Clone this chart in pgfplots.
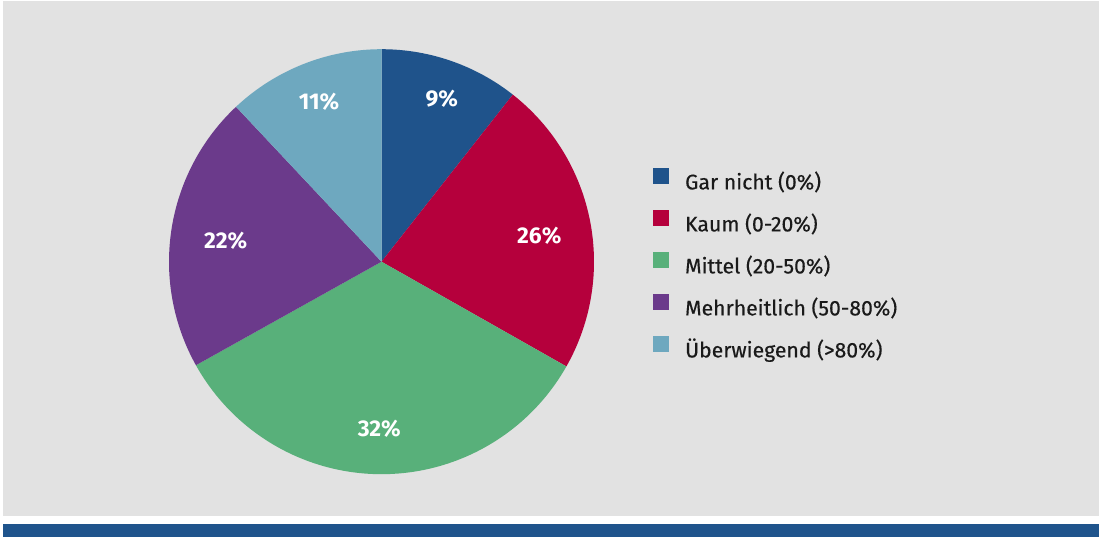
\documentclass[border=0pt]{standalone}
\usepackage{pgfplots}
\pgfplotsset{compat=1.18}
\usepackage{pgfplotstable}
\usepackage{fontspec}
\setmainfont{Fira Sans}
\newfontfamily\legfont[FakeBold=0.4]{Fira Sans}
\definecolor{bggray}{HTML}{E2E2E2}
\definecolor{barblue}{HTML}{1F548C}
\definecolor{c0}{HTML}{1F538B}
\definecolor{c1}{HTML}{B5003C}
\definecolor{c2}{HTML}{58B07A}
\definecolor{c3}{HTML}{6B3A8B}
\definecolor{c4}{HTML}{6EA8BF}
\definecolor{txt}{HTML}{1A1A1A}

% share of the circle as drawn, printed label, label position
\pgfplotstableread{
share pct lx ly
10.6 9 441.7 438.0
22.6 26 539.3 301.3
33.7 32 379.3 108.0
21.1 22 225.7 296.0
12.0 11 319.0 435.3
}\piedata

\begin{document}
\begin{tikzpicture}
\begin{axis}[
  width=549.5pt, height=268.5pt, scale only axis,
  xmin=0, xmax=1099, ymin=0, ymax=537,
  hide axis, clip=false,
  area legend,
  legend image code/.code={\fill[#1] (0pt,0pt) rectangle (8pt,8pt);},
  legend cell align=left,
  legend style={draw=none, fill=none, at={(axis cs:652.7,369.5)}, anchor=north west,
    font=\legfont\fontsize{10.6}{12}\selectfont, text=txt, row sep=7.75pt, column sep=8pt, inner sep=0pt,
    nodes={inner sep=0pt, text height=8pt, text depth=2.5pt}},
  legend entries={Gar nicht (0\%), Kaum (0-20\%), Mittel (20-50\%), Mehrheitlich (50-80\%), Überwiegend (>80\%)},
]
\fill[white] (axis cs:0,0) rectangle (axis cs:1099,537);
\fill[bggray] (axis cs:3,21.3) rectangle (axis cs:1099,536);
\fill[barblue] (axis cs:3,0) rectangle (axis cs:1099,13.3);
\def\astart{90}
\pgfplotsforeachungrouped \i in {0,...,4}{%
  \pgfplotstablegetelem{\i}{share}\of\piedata \let\s=\pgfplotsretval
  \pgfmathsetmacro\aend{\astart-3.6*\s}%
  \edef\cmd{\noexpand\addplot[fill=c\i, draw=none, domain=\aend:\astart, samples=90]
    ({381.5+212.5*cos(x)},{275.3+212.5*sin(x)}) -- (axis cs:381.5,275.3) -- cycle;}%
  \cmd
  \global\let\astart\aend
}
\pgfplotsforeachungrouped \i in {0,...,4}{%
  \pgfplotstablegetelem{\i}{pct}\of\piedata \let\p=\pgfplotsretval
  \pgfplotstablegetelem{\i}{lx}\of\piedata \let\lx=\pgfplotsretval
  \pgfplotstablegetelem{\i}{ly}\of\piedata \let\ly=\pgfplotsretval
  \edef\cmd{\noexpand\node[text=white, inner sep=0pt, font=\noexpand\bfseries\noexpand\fontsize{11.4}{12}\noexpand\selectfont]
    at (axis cs:\lx,\ly) {\p\noexpand\%};}%
  \cmd
}
\end{axis}
\end{tikzpicture}
\end{document}
